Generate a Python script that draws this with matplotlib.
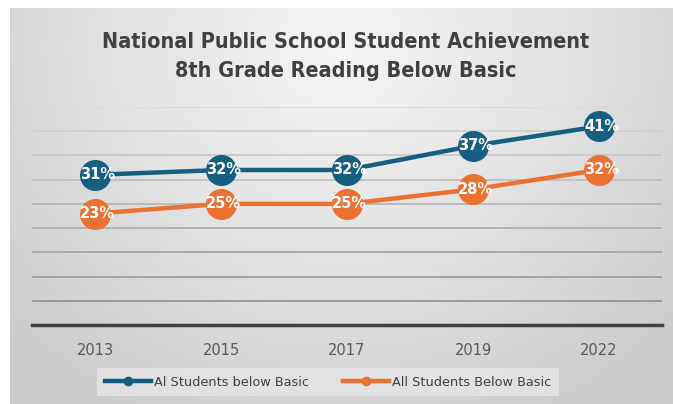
import numpy as np
import matplotlib
matplotlib.use('Agg')
import matplotlib.pyplot as plt
from matplotlib.lines import Line2D
from matplotlib.colors import LinearSegmentedColormap

years = ["2013", "2015", "2017", "2019", "2022"]
ai_below_basic = [31, 32, 32, 37, 41]
all_below_basic = [23, 25, 25, 28, 32]
series_names = ["Al Students below Basic", "All Students Below Basic"]
title = "National Public School Student Achievement\n8th Grade Reading Below Basic"

blue = "#175f80"
orange = "#e97132"

fig = plt.figure(figsize=(6.73, 4.04), dpi=100)
fig.patch.set_facecolor("white")

# background panel with a soft radial gradient
bg = fig.add_axes([10 / 673, 0, 663 / 673, 396 / 404])
yy, xx = np.mgrid[0:1:200j, 0:1:300j]
r = np.sqrt(((xx - 0.5) / 0.7) ** 2 + ((yy - 0.1) / 1.1) ** 2)
bg_cmap = LinearSegmentedColormap.from_list("bg", ["#f5f5f5", "#e2e2e2", "#cbcbcb"])
bg.imshow(np.clip(r, 0, 1), cmap=bg_cmap, vmin=0, vmax=1, aspect="auto",
          extent=[0, 1, 0, 1], origin="upper")
bg.set_axis_off()

ax = fig.add_axes([32 / 673, (404 - 325) / 404, 630 / 673, 218 / 404])
ax.patch.set_alpha(0)
x = np.arange(len(years))
ax.set_xlim(-0.5, len(years) - 0.5)
ax.set_ylim(0, 45)

grid_vals = np.arange(5, 46, 5)
for i, g in enumerate(grid_vals):
    shade = 0.58 + 0.27 * i / (len(grid_vals) - 1)
    ax.axhline(g, color=str(shade), lw=1.3, zorder=1)

for s in ["top", "right", "left"]:
    ax.spines[s].set_visible(False)
ax.spines["bottom"].set_color("#404040")
ax.spines["bottom"].set_linewidth(2.5)
ax.set_yticks([])
ax.set_xticks(x)
ax.set_xticklabels(years, fontsize=10.5, color="#595959")
ax.tick_params(axis="x", length=0, pad=13)

for vals, col in [(ai_below_basic, blue), (all_below_basic, orange)]:
    ax.plot(x, vals, color=col, lw=3.2, zorder=3, solid_capstyle="round")
    ax.scatter(x, vals, s=500, color=col, zorder=4, linewidths=0)
    for xi, v in zip(x, vals):
        ax.text(xi + 0.02, v, f"{v}%", color="white", fontsize=10.5, fontweight="bold",
                ha="center", va="center", zorder=5)

fig.text(0.514, 0.86, title, ha="center", va="center", fontsize=15.5,
         fontweight="bold", color="#404040", linespacing=1.6,
         family=["Liberation Sans Narrow", "DejaVu Sans"], stretch="condensed")

handles = [Line2D([0], [0], color=blue, lw=3.2, marker="o", markersize=6),
           Line2D([0], [0], color=orange, lw=3.2, marker="o", markersize=6)]
leg = fig.legend(handles, series_names, loc="center", ncol=2,
                 bbox_to_anchor=(328 / 673, (404 - 382) / 404),
                 frameon=True, fontsize=9.3, handlelength=3.6, handletextpad=0.2,
                 columnspacing=2.6, borderpad=0.6)
leg.get_frame().set_facecolor("#e6e6e6")
leg.get_frame().set_edgecolor("none")
leg.get_frame().set_boxstyle("square", pad=0)
for t in leg.get_texts():
    t.set_color("#404040")

fig.savefig("out.png", dpi=100)
